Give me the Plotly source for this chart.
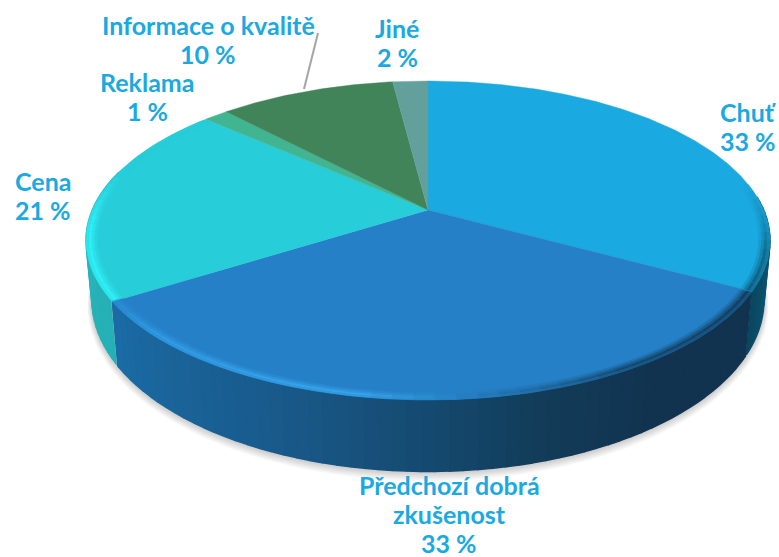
import numpy as np
import plotly.graph_objects as go

labels = [["Chuť"], ["Předchozí dobrá", "zkušenost"], ["Cena"], ["Reklama"], ["Informace o kvalitě"], ["Jiné"]]
values = [33.0, 33.0, 20.6, 1.4, 10.0, 2.0]
colors = ["#1BA9E1", "#2580C7", "#27CDD8", "#41B591", "#41845A", "#63A09C"]

# centre and first line of each label, in the picture's pixels
label_x = [748, 449, 43, 147, 208, 397]
label_y = [112, 485, 181, 82, 25, 28]
LINE_GAP = 29

W, H = 779, 557
FONT = "Lato"
TEXT = "#1BA9E1"

# side wall colours along the rim, angle in degrees clockwise from 12 o'clock
wall_stops = {
    0: [(85, "#0E5F7E"), (105, "#0C5470"), (119, "#0A4660")],
    1: [(119, "#11334F"), (145, "#11334F"), (165, "#123C5A"), (180, "#154A70"), (205, "#195C8E"), (225, "#1A659C"), (238, "#1A6CA8")],
    2: [(238, "#25B0B5"), (285, "#28B8BE")],
}
# lit edge on the top face
bevel_stops = {
    0: [(80, "#1BA9E1"), (95, "#158BB8"), (105, "#106C90"), (119, "#0F5F80")],
    1: [(119, "#133F60"), (150, "#15496E"), (172, "#2478B8"), (190, "#38A4EC"), (225, "#2F9AE2"), (238, "#2A8AD0")],
    2: [(238, "#2FEFF6"), (265, "#2FEFF6"), (285, "#27CDD8"), (311, "#27CDD8")],
}


def rim(theta, scale=1.0):
    # projective view of a flat disc, so the back shrinks and the front grows
    t = np.radians(theta)
    u, v = scale * np.sin(t), scale * np.cos(t)
    k, a, b = 0.191, 153.7, 335.7
    d = 1 + k * v
    return 428 + b * u / d, 210 - a * v / d


def foot(theta):
    x, y = rim(theta)
    return 428 + (x - 428) * 336 / 342, 300 + (y - 240.5) * 172 / 160


def to_rgb(c):
    return np.array([int(c[i:i + 2], 16) for i in (1, 3, 5)], dtype=float)


def mix(c1, c2, f):
    m = to_rgb(c1) * (1 - f) + to_rgb(c2) * f
    return "rgb(%d,%d,%d)" % tuple(m.round())


def ramp(stops, theta):
    pos = [s[0] for s in stops]
    rgb = np.array([to_rgb(s[1]) for s in stops])
    m = [np.interp(theta, pos, rgb[:, i]) for i in range(3)]
    return "#%02X%02X%02X" % tuple(int(round(c)) for c in m)


def poly(fig, x, y, color, opacity=1.0, edge=0.6):
    fig.add_trace(go.Scatter(
        x=list(x), y=list(y), mode="lines", fill="toself", fillcolor=color,
        line=dict(color=color, width=edge), opacity=opacity,
        hoverinfo="skip", showlegend=False,
    ))


edges = np.concatenate([[0], np.cumsum(values) / np.sum(values) * 360])
fig = go.Figure()

# soft shadow under the front of the disc
sweep = np.linspace(92, 268, 90)
fx, fy = foot(sweep)
for grow in range(9, 0, -1):
    sx = 428 + (fx - 428) * (1 + grow * 0.0016)
    sy = 300 + (fy - 300) * (1 + grow * 0.0032) + grow * 0.55
    poly(fig, sx, sy, "#000000", opacity=0.022, edge=0)

# side wall
for i, stops in wall_stops.items():
    lo = max(edges[i], stops[0][0])
    hi = min(edges[i + 1], stops[-1][0])
    cuts = np.arange(lo, hi + 2.0, 2.0)
    cuts[-1] = hi
    for t0, t1 in zip(cuts[:-1], cuts[1:]):
        ang = np.linspace(t0, t1, 3)
        tx, ty = rim(ang)
        bx, by = foot(ang[::-1])
        poly(fig, np.r_[tx, bx], np.r_[ty, by], ramp(stops, (t0 + t1) / 2), edge=1.5)

# top face
for i, color in enumerate(colors):
    ang = np.linspace(edges[i], edges[i + 1], max(int(edges[i + 1] - edges[i]) * 2, 4))
    rx, ry = rim(ang)
    poly(fig, np.r_[428, rx, 428], np.r_[210, ry, 210], color, edge=0.4)

# bevel: a few thin bands going from the face colour to the edge colour
bands = [(0.968, 0.976, 0.25), (0.976, 0.984, 0.6), (0.984, 0.993, 1.0), (0.993, 1.0, 0.75)]
for i, stops in bevel_stops.items():
    lo = max(edges[i], stops[0][0])
    hi = min(edges[i + 1], stops[-1][0])
    cuts = np.arange(lo, hi + 3, 3.0)
    cuts[-1] = hi
    for t0, t1 in zip(cuts[:-1], cuts[1:]):
        peak = ramp(stops, (t0 + t1) / 2)
        ang = np.linspace(t0, t1, 3)
        for s0, s1, f in bands:
            ix, iy = rim(ang, s0)
            ox, oy = rim(ang[::-1], s1)
            poly(fig, np.r_[ix, ox], np.r_[iy, oy], mix(colors[i], peak, f), edge=0.3)

# leader line for Informace o kvalitě
fig.add_trace(go.Scatter(
    x=[318, 304], y=[33, 89], mode="lines", line=dict(color="#A6A6A6", width=2),
    hoverinfo="skip", showlegend=False,
))

for name, val, lx, ly in zip(labels, values, label_x, label_y):
    for n, line in enumerate(name + [f"{val:.0f} %"]):
        fig.add_annotation(
            x=lx, y=ly + n * LINE_GAP, text=line, showarrow=False,
            font=dict(family=FONT, size=25, color=TEXT, weight=700),
        )

fig.update_xaxes(range=[0, W], visible=False, fixedrange=True)
fig.update_yaxes(range=[H, 0], visible=False, fixedrange=True)
fig.update_layout(
    width=W, height=H, margin=dict(l=0, r=0, t=0, b=0),
    paper_bgcolor="white", plot_bgcolor="white", showlegend=False,
)

fig.write_html("out.html", config={"displayModeBar": False}, post_script="document.body.style.margin = '0';")
